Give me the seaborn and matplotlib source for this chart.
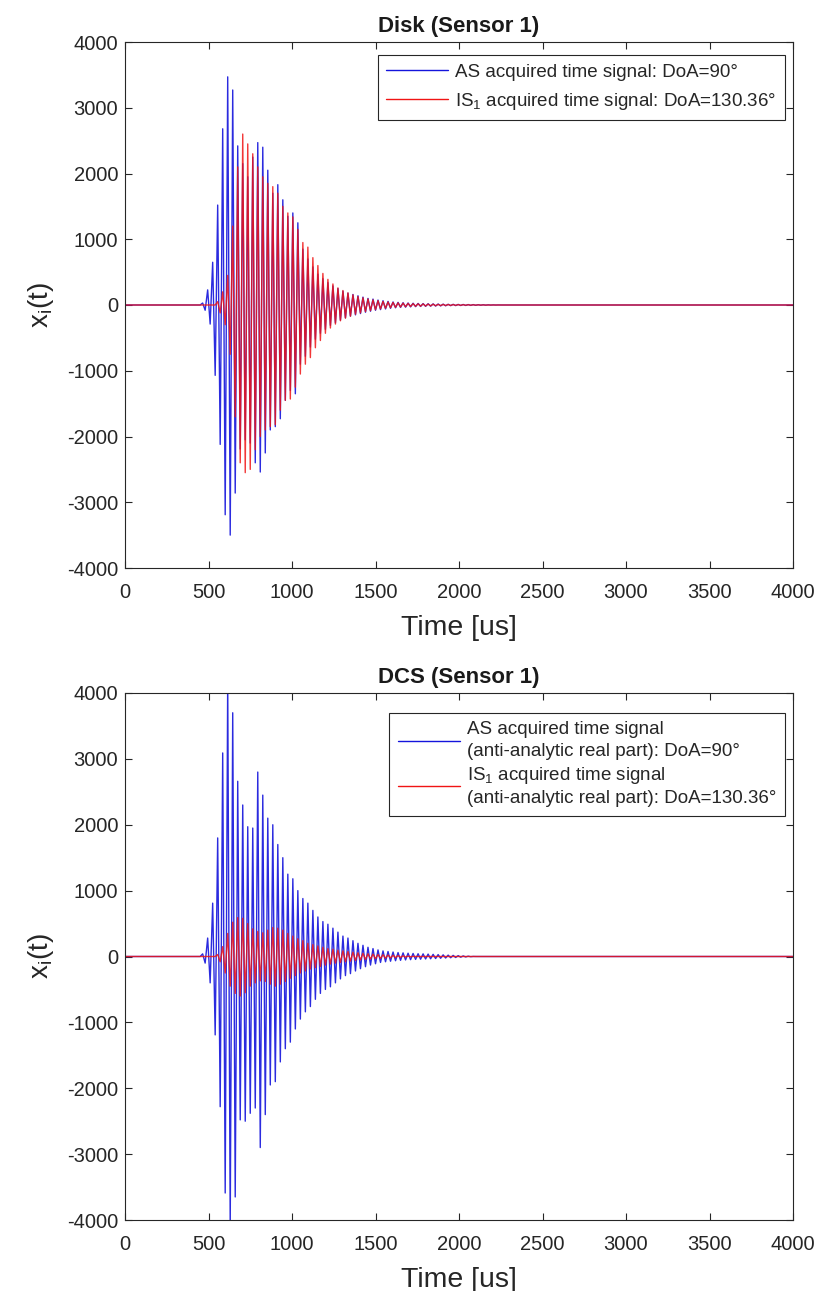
import numpy as np
import pandas as pd
import matplotlib
matplotlib.use("Agg")
import matplotlib.pyplot as plt
import seaborn as sns

# ---------------- data (extrema, half-period spacing 15 us) ----------------
DT = 15  # us between successive extrema
t_end = 4000

# Disk (Sensor 1) - AS acquired signal, starts at 450 us
disk_as_t0 = 450
disk_as = [0, 30, -80, 230, -290, 650, -1070, 1520, -2120, 2680,
           -3190, 3470, -3500, 3270, -2860, 2420, -2190, 2150, -2050, 1950,
           -2100, 2250, -2400, 2470, -2540, 2400, -2250, 2050, -1900, 1700,
           -1850, 1830, -1730, 1600, -1450, 1350, -1300, 1400, -1350, 1250,
           -900, 850, -780, 700, -640, 580, -520, 470, -430, 400,
           -370, 340, -310, 290, -270, 250, -230, 210, -195, 180,
           -170, 160, -150, 140, -130, 120, -110, 100, -95, 90,
           -80, 75, -70, 65, -60, 55, -50, 46, -42, 40,
           -37, 35, -33, 31, -29, 27, -25, 24, -22, 21,
           -20, 19, -18, 17, -16, 15, -14, 13, -12, 11,
           -10, 10, -9, 9, -8, 8, -7, 7, -6, 6,
           -5, 5, -4, 4, -3, 3, -2, 2, -1, 1, 0]

# Disk (Sensor 1) - IS1 acquired signal, starts at 540 us
disk_is_t0 = 540
disk_is = [0, 50, -120, 200, -300, 450, -750, 1200, -1700, 2100,
           -2400, 2600, -2550, 2450, -2500, 2300, -2200, 2100, -2000, 1950,
           -1900, 1850, -1850, 1800, -1820, 1700, -1600, 1500, -1450, 1400,
           -1430, 1340, -1250, 1150, -1050, 950, -900, 880, -800, 720,
           -650, 600, -540, 480, -430, 390, -350, 320, -290, 260,
           -240, 220, -200, 185, -170, 155, -140, 130, -120, 110,
           -100, 92, -85, 78, -72, 66, -60, 55, -50, 46,
           -42, 39, -36, 33, -30, 28, -26, 24, -22, 20,
           -19, 18, -17, 16, -15, 14, -13, 12, -11, 10,
           -9, 9, -8, 8, -7, 7, -6, 6, -5, 5,
           -4, 4, -3, 3, -2, 2, -1, 1, -1, 0]

# DCS (Sensor 1) - AS anti-analytic real part, starts at 450 us
dcs_as_t0 = 450
dcs_as = [0, 40, -100, 280, -400, 810, -1190, 1800, -2280, 3090,
          -3590, 4200, -4100, 3700, -3650, 2660, -2480, 2300, -2500, 1970,
          -2380, 1950, -2300, 2800, -2900, 2450, -2400, 2100, -1950, 2000,
          -1900, 1700, -1600, 1500, -1400, 1250, -1300, 1180, -1100, 1000,
          -950, 880, -840, 810, -760, 700, -650, 600, -560, 530,
          -500, 490, -460, 430, -400, 370, -340, 310, -290, 280,
          -260, 240, -220, 200, -185, 170, -155, 140, -130, 120,
          -110, 100, -90, 85, -80, 76, -72, 68, -64, 60,
          -58, 55, -52, 50, -48, 46, -44, 42, -41, 40,
          -38, 37, -35, 33, -31, 29, -27, 25, -23, 21,
          -19, 17, -15, 13, -11, 9, -7, 5, -3, 1, 0]

# DCS (Sensor 1) - IS1 anti-analytic real part, starts at 540 us
dcs_is_t0 = 540
dcs_is = [0, 30, -80, 150, -250, 350, -450, 520, -560, 590,
          -600, 580, -550, 500, -450, 420, -400, 380, -370, 360,
          -380, 400, -420, 440, -450, 430, -420, 400, -380, 350,
          -330, 310, -290, 270, -250, 240, -220, 200, -190, 180,
          -170, 160, -150, 140, -130, 120, -115, 110, -100, 95,
          -90, 85, -80, 75, -70, 65, -60, 56, -52, 48,
          -45, 42, -39, 36, -33, 30, -28, 26, -24, 22,
          -20, 18, -16, 14, -12, 10, -8, 6, -4, 2, 0]

titles = ["Disk (Sensor 1)", "DCS (Sensor 1)"]
labels_top = ["AS acquired time signal: DoA=90°",
              "IS$_1$ acquired time signal: DoA=130.36°"]
labels_bot = ["AS acquired time signal\n(anti-analytic real part): DoA=90°",
              "IS$_1$ acquired time signal\n(anti-analytic real part): DoA=130.36°"]
xticks = [0, 500, 1000, 1500, 2000, 2500, 3000, 3500, 4000]
yticks = [-4000, -3000, -2000, -1000, 0, 1000, 2000, 3000, 4000]


def series(t0, vals):
    t = [0.0] + list(t0 + DT * np.arange(len(vals))) + [float(t_end)]
    v = [0.0] + list(vals) + [0.0]
    return pd.DataFrame({"t": t, "v": v})


# ---------------- style ----------------
sns.set_theme(style="ticks")
plt.rcParams["font.family"] = ["Liberation Sans", "DejaVu Sans"]
plt.rcParams["mathtext.fontset"] = "custom"
plt.rcParams["mathtext.rm"] = "Liberation Sans"
plt.rcParams["mathtext.it"] = "Liberation Sans:italic"
plt.rcParams["mathtext.bf"] = "Liberation Sans:bold"
plt.rcParams["axes.unicode_minus"] = False

fig = plt.figure(figsize=(8.19, 12.91), dpi=100)
W, H = 819, 1291
AXW = 668
ax_top = fig.add_axes([125 / W, 1 - 568 / H, AXW / W, 526 / H])
ax_bot = fig.add_axes([125 / W, 1 - 1220 / H, AXW / W, 527 / H])

# (axes, AS data, IS data, labels, title, labelspacing, legend top offset px, axes height px, text linespacing)
panels = [
    (ax_top, series(disk_as_t0, disk_as), series(disk_is_t0, disk_is), labels_top, titles[0], 0.55, 13, 526, 1.2),
    (ax_bot, series(dcs_as_t0, dcs_as), series(dcs_is_t0, dcs_is), labels_bot, titles[1], 0.25, 20, 527, 1.35),
]

for ax, d_as, d_is, labs, title, lsp, off, axh, lns in panels:
    sns.lineplot(data=d_as, x="t", y="v", ax=ax, color="#1414dc", lw=1.0,
                 estimator=None, sort=False, label=labs[0], alpha=0.9)
    sns.lineplot(data=d_is, x="t", y="v", ax=ax, color="#f01414", lw=1.0,
                 estimator=None, sort=False, label=labs[1], alpha=0.85)
    ax.set_xlim(0, 4000)
    ax.set_ylim(-4000, 4000)
    ax.set_xticks(xticks)
    ax.set_yticks(yticks)
    ax.tick_params(direction="in", length=5, width=0.8, top=True, right=True,
                   labelsize=14.5, colors="#262626")
    ax.tick_params(axis="x", pad=11)
    ax.tick_params(axis="y", pad=5)
    for s in ax.spines.values():
        s.set_visible(True)
        s.set_color("#262626")
        s.set_linewidth(0.8)
    ax.set_xlabel("Time [us]", fontsize=20.5, color="#262626", labelpad=9)
    ax.set_ylabel(r"x$_\mathrm{i}$(t)", fontsize=20, color="#262626", labelpad=8)
    ax.set_title(title, fontsize=16, fontweight="bold", color="#1a1a1a", pad=7)
    leg = ax.legend(loc="upper right", bbox_to_anchor=(1 - 8 / AXW, 1 - off / axh),
                    fontsize=13.5, handlelength=3.3,
                    fancybox=False, framealpha=1, edgecolor="#262626",
                    borderaxespad=0, handletextpad=0.4, labelspacing=lsp,
                    borderpad=0.45)
    leg.get_frame().set_linewidth(0.8)
    for txt in leg.get_texts():
        txt.set_linespacing(lns)
        txt.set_color("#262626")
    for line in leg.get_lines():
        line.set_linewidth(1.0)
        line.set_alpha(1)

fig.savefig("out.png", dpi=100)
